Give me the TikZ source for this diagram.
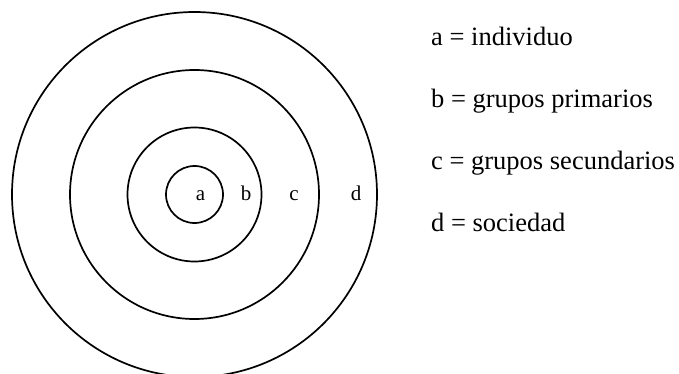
\documentclass[tikz,border=0pt]{standalone}
\usepackage{fontspec}
\setmainfont{Liberation Serif}

\newcommand*{\cx}{194.5}
\newcommand*{\cy}{194.5}
\newcommand*{\keyx}{431}

\begin{document}
\begin{tikzpicture}
[
	x=1pt, y=-1pt,
	ring/.style={line width=1.7pt},
	ringlbl/.style={anchor=base,inner sep=0pt,font=\fontsize{21}{25}\selectfont},
	keyitem/.style={anchor=base west,inner sep=0pt,font=\fontsize{26.5}{30}\selectfont}
]
	\useasboundingbox (0,0) rectangle (679,374);

	% rings
	\coordinate (ctr) at (\cx,\cy);
	\foreach \r in {28.5,67,124.5,182.5}
		\draw[ring] (ctr) circle[radius=\r];

	% ring labels
	\node[ringlbl] (a) at (200.5,200) {a};
	\node[ringlbl] (b) at (246,200) {b};
	\node[ringlbl] (c) at (294,200) {c};
	\node[ringlbl] (d) at (356,200) {d};

	% key
	\node[keyitem] (keya) at (\keyx,46) {a = individuo};
	\node[keyitem] (keyb) at (\keyx,108) {b = grupos primarios};
	\node[keyitem] (keyc) at (\keyx,170) {c = grupos secundarios};
	\node[keyitem] (keyd) at (\keyx,231) {d = sociedad};

\end{tikzpicture}
\end{document}
